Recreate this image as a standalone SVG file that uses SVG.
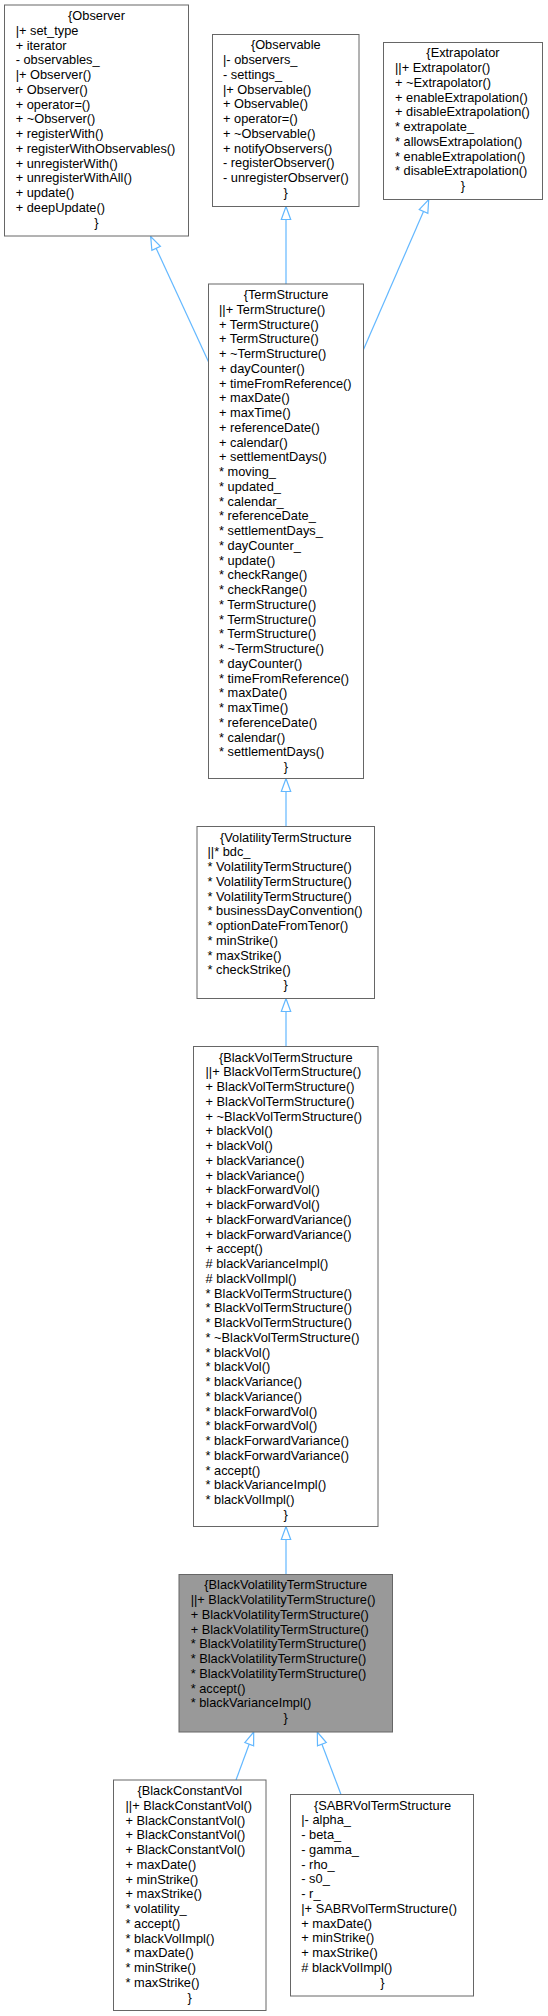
<svg xmlns="http://www.w3.org/2000/svg" width="548" height="2016" viewBox="0 0 548 2016">
<style>
text{font-family:"Liberation Sans",Arial,Helvetica,sans-serif;font-size:12.8px;fill:#000}
.c{text-anchor:middle}
.box{fill:#fff;stroke:#666;stroke-width:1}
.hl{fill:#999;stroke:#666;stroke-width:1}
.edge{fill:none;stroke:#63b8ff;stroke-width:1.2;marker-end:url(#inh)}
</style>
<defs>
<marker id="inh" markerUnits="userSpaceOnUse" markerWidth="15" markerHeight="12" viewBox="0 0 15 12" refX="14" refY="6" orient="auto">
<path d="M1,1.3 L14,6 L1,10.7 Z" fill="#fff" stroke="#63b8ff" stroke-width="1.2"/>
</marker>
</defs>
<rect width="548" height="2016" fill="#fff"/>
<g id="edges">
<path class="edge" d="M208.5,361.7 L150.7,236.5"/>
<path class="edge" d="M286,284 L286,206.5"/>
<path class="edge" d="M363.3,350 L428.7,199.5"/>
<path class="edge" d="M286,826.5 L286,778.5"/>
<path class="edge" d="M286,1046.5 L286,998.5"/>
<path class="edge" d="M286,1574.5 L286,1526.5"/>
<path class="edge" d="M236,1780 L253.7,1732"/>
<path class="edge" d="M341,1794.5 L317.3,1732"/>
</g>
<g id="Observer">
<rect class="box" x="4.5" y="5" width="184" height="231"/>
<text class="c" x="96.5" y="20">{Observer</text>
<text x="15.7" y="34.75"><tspan x="15.7">|+ set_type</tspan><tspan x="15.7" dy="14.75">+ iterator</tspan><tspan x="15.7" dy="14.75">- observables_</tspan><tspan x="15.7" dy="14.75">|+ Observer()</tspan><tspan x="15.7" dy="14.75">+ Observer()</tspan><tspan x="15.7" dy="14.75">+ operator=()</tspan><tspan x="15.7" dy="14.75">+ ~Observer()</tspan><tspan x="15.7" dy="14.75">+ registerWith()</tspan><tspan x="15.7" dy="14.75">+ registerWithObservables()</tspan><tspan x="15.7" dy="14.75">+ unregisterWith()</tspan><tspan x="15.7" dy="14.75">+ unregisterWithAll()</tspan><tspan x="15.7" dy="14.75">+ update()</tspan><tspan x="15.7" dy="14.75">+ deepUpdate()</tspan></text>
<text class="c" x="96.5" y="226.5">}</text>
</g>
<g id="Observable">
<rect class="box" x="212.5" y="34.5" width="146.5" height="172"/>
<text class="c" x="285.75" y="49.3">{Observable</text>
<text x="223" y="64.05"><tspan x="223">|- observers_</tspan><tspan x="223" dy="14.75">- settings_</tspan><tspan x="223" dy="14.75">|+ Observable()</tspan><tspan x="223" dy="14.75">+ Observable()</tspan><tspan x="223" dy="14.75">+ operator=()</tspan><tspan x="223" dy="14.75">+ ~Observable()</tspan><tspan x="223" dy="14.75">+ notifyObservers()</tspan><tspan x="223" dy="14.75">- registerObserver()</tspan><tspan x="223" dy="14.75">- unregisterObserver()</tspan></text>
<text class="c" x="285.75" y="196.8">}</text>
</g>
<g id="Extrapolator">
<rect class="box" x="383.5" y="42.5" width="159" height="157"/>
<text class="c" x="463" y="57.3">{Extrapolator</text>
<text x="395" y="72.05"><tspan x="395">||+ Extrapolator()</tspan><tspan x="395" dy="14.75">+ ~Extrapolator()</tspan><tspan x="395" dy="14.75">+ enableExtrapolation()</tspan><tspan x="395" dy="14.75">+ disableExtrapolation()</tspan><tspan x="395" dy="14.75">* extrapolate_</tspan><tspan x="395" dy="14.75">* allowsExtrapolation()</tspan><tspan x="395" dy="14.75">* enableExtrapolation()</tspan><tspan x="395" dy="14.75">* disableExtrapolation()</tspan></text>
<text class="c" x="463" y="190.05">}</text>
</g>
<g id="TermStructure">
<rect class="box" x="208.5" y="284" width="155" height="494.5"/>
<text class="c" x="286" y="299">{TermStructure</text>
<text x="219" y="313.75"><tspan x="219">||+ TermStructure()</tspan><tspan x="219" dy="14.75">+ TermStructure()</tspan><tspan x="219" dy="14.75">+ TermStructure()</tspan><tspan x="219" dy="14.75">+ ~TermStructure()</tspan><tspan x="219" dy="14.75">+ dayCounter()</tspan><tspan x="219" dy="14.75">+ timeFromReference()</tspan><tspan x="219" dy="14.75">+ maxDate()</tspan><tspan x="219" dy="14.75">+ maxTime()</tspan><tspan x="219" dy="14.75">+ referenceDate()</tspan><tspan x="219" dy="14.75">+ calendar()</tspan><tspan x="219" dy="14.75">+ settlementDays()</tspan><tspan x="219" dy="14.75">* moving_</tspan><tspan x="219" dy="14.75">* updated_</tspan><tspan x="219" dy="14.75">* calendar_</tspan><tspan x="219" dy="14.75">* referenceDate_</tspan><tspan x="219" dy="14.75">* settlementDays_</tspan><tspan x="219" dy="14.75">* dayCounter_</tspan><tspan x="219" dy="14.75">* update()</tspan><tspan x="219" dy="14.75">* checkRange()</tspan><tspan x="219" dy="14.75">* checkRange()</tspan><tspan x="219" dy="14.75">* TermStructure()</tspan><tspan x="219" dy="14.75">* TermStructure()</tspan><tspan x="219" dy="14.75">* TermStructure()</tspan><tspan x="219" dy="14.75">* ~TermStructure()</tspan><tspan x="219" dy="14.75">* dayCounter()</tspan><tspan x="219" dy="14.75">* timeFromReference()</tspan><tspan x="219" dy="14.75">* maxDate()</tspan><tspan x="219" dy="14.75">* maxTime()</tspan><tspan x="219" dy="14.75">* referenceDate()</tspan><tspan x="219" dy="14.75">* calendar()</tspan><tspan x="219" dy="14.75">* settlementDays()</tspan></text>
<text class="c" x="286" y="771">}</text>
</g>
<g id="VolatilityTermStructure">
<rect class="box" x="197" y="826.5" width="177.5" height="172"/>
<text class="c" x="285.75" y="841.7">{VolatilityTermStructure</text>
<text x="207.5" y="856.45"><tspan x="207.5">||* bdc_</tspan><tspan x="207.5" dy="14.75">* VolatilityTermStructure()</tspan><tspan x="207.5" dy="14.75">* VolatilityTermStructure()</tspan><tspan x="207.5" dy="14.75">* VolatilityTermStructure()</tspan><tspan x="207.5" dy="14.75">* businessDayConvention()</tspan><tspan x="207.5" dy="14.75">* optionDateFromTenor()</tspan><tspan x="207.5" dy="14.75">* minStrike()</tspan><tspan x="207.5" dy="14.75">* maxStrike()</tspan><tspan x="207.5" dy="14.75">* checkStrike()</tspan></text>
<text class="c" x="285.75" y="989.2">}</text>
</g>
<g id="BlackVolTermStructure">
<rect class="box" x="193.5" y="1046.5" width="184.5" height="480"/>
<text class="c" x="285.75" y="1061.7">{BlackVolTermStructure</text>
<text x="205.5" y="1076.45"><tspan x="205.5">||+ BlackVolTermStructure()</tspan><tspan x="205.5" dy="14.75">+ BlackVolTermStructure()</tspan><tspan x="205.5" dy="14.75">+ BlackVolTermStructure()</tspan><tspan x="205.5" dy="14.75">+ ~BlackVolTermStructure()</tspan><tspan x="205.5" dy="14.75">+ blackVol()</tspan><tspan x="205.5" dy="14.75">+ blackVol()</tspan><tspan x="205.5" dy="14.75">+ blackVariance()</tspan><tspan x="205.5" dy="14.75">+ blackVariance()</tspan><tspan x="205.5" dy="14.75">+ blackForwardVol()</tspan><tspan x="205.5" dy="14.75">+ blackForwardVol()</tspan><tspan x="205.5" dy="14.75">+ blackForwardVariance()</tspan><tspan x="205.5" dy="14.75">+ blackForwardVariance()</tspan><tspan x="205.5" dy="14.75">+ accept()</tspan><tspan x="205.5" dy="14.75"># blackVarianceImpl()</tspan><tspan x="205.5" dy="14.75"># blackVolImpl()</tspan><tspan x="205.5" dy="14.75">* BlackVolTermStructure()</tspan><tspan x="205.5" dy="14.75">* BlackVolTermStructure()</tspan><tspan x="205.5" dy="14.75">* BlackVolTermStructure()</tspan><tspan x="205.5" dy="14.75">* ~BlackVolTermStructure()</tspan><tspan x="205.5" dy="14.75">* blackVol()</tspan><tspan x="205.5" dy="14.75">* blackVol()</tspan><tspan x="205.5" dy="14.75">* blackVariance()</tspan><tspan x="205.5" dy="14.75">* blackVariance()</tspan><tspan x="205.5" dy="14.75">* blackForwardVol()</tspan><tspan x="205.5" dy="14.75">* blackForwardVol()</tspan><tspan x="205.5" dy="14.75">* blackForwardVariance()</tspan><tspan x="205.5" dy="14.75">* blackForwardVariance()</tspan><tspan x="205.5" dy="14.75">* accept()</tspan><tspan x="205.5" dy="14.75">* blackVarianceImpl()</tspan><tspan x="205.5" dy="14.75">* blackVolImpl()</tspan></text>
<text class="c" x="285.75" y="1518.95">}</text>
</g>
<g id="BlackVolatilityTermStructure">
<rect class="hl" x="179" y="1574.5" width="213.5" height="157.5"/>
<text class="c" x="285.75" y="1589.3">{BlackVolatilityTermStructure</text>
<text x="190.7" y="1604.05"><tspan x="190.7">||+ BlackVolatilityTermStructure()</tspan><tspan x="190.7" dy="14.75">+ BlackVolatilityTermStructure()</tspan><tspan x="190.7" dy="14.75">+ BlackVolatilityTermStructure()</tspan><tspan x="190.7" dy="14.75">* BlackVolatilityTermStructure()</tspan><tspan x="190.7" dy="14.75">* BlackVolatilityTermStructure()</tspan><tspan x="190.7" dy="14.75">* BlackVolatilityTermStructure()</tspan><tspan x="190.7" dy="14.75">* accept()</tspan><tspan x="190.7" dy="14.75">* blackVarianceImpl()</tspan></text>
<text class="c" x="285.75" y="1722.05">}</text>
</g>
<g id="BlackConstantVol">
<rect class="box" x="113.5" y="1780" width="152.5" height="230.5"/>
<text class="c" x="189.75" y="1795">{BlackConstantVol</text>
<text x="125.5" y="1809.75"><tspan x="125.5">||+ BlackConstantVol()</tspan><tspan x="125.5" dy="14.75">+ BlackConstantVol()</tspan><tspan x="125.5" dy="14.75">+ BlackConstantVol()</tspan><tspan x="125.5" dy="14.75">+ BlackConstantVol()</tspan><tspan x="125.5" dy="14.75">+ maxDate()</tspan><tspan x="125.5" dy="14.75">+ minStrike()</tspan><tspan x="125.5" dy="14.75">+ maxStrike()</tspan><tspan x="125.5" dy="14.75">* volatility_</tspan><tspan x="125.5" dy="14.75">* accept()</tspan><tspan x="125.5" dy="14.75">* blackVolImpl()</tspan><tspan x="125.5" dy="14.75">* maxDate()</tspan><tspan x="125.5" dy="14.75">* minStrike()</tspan><tspan x="125.5" dy="14.75">* maxStrike()</tspan></text>
<text class="c" x="189.75" y="2001.5">}</text>
</g>
<g id="SABRVolTermStructure">
<rect class="box" x="290.5" y="1794.5" width="183" height="201.5"/>
<text class="c" x="382.5" y="1809.7">{SABRVolTermStructure</text>
<text x="301.3" y="1824.45"><tspan x="301.3">|- alpha_</tspan><tspan x="301.3" dy="14.75">- beta_</tspan><tspan x="301.3" dy="14.75">- gamma_</tspan><tspan x="301.3" dy="14.75">- rho_</tspan><tspan x="301.3" dy="14.75">- s0_</tspan><tspan x="301.3" dy="14.75">- r_</tspan><tspan x="301.3" dy="14.75">|+ SABRVolTermStructure()</tspan><tspan x="301.3" dy="14.75">+ maxDate()</tspan><tspan x="301.3" dy="14.75">+ minStrike()</tspan><tspan x="301.3" dy="14.75">+ maxStrike()</tspan><tspan x="301.3" dy="14.75"># blackVolImpl()</tspan></text>
<text class="c" x="382.5" y="1986.7">}</text>
</g>
</svg>
